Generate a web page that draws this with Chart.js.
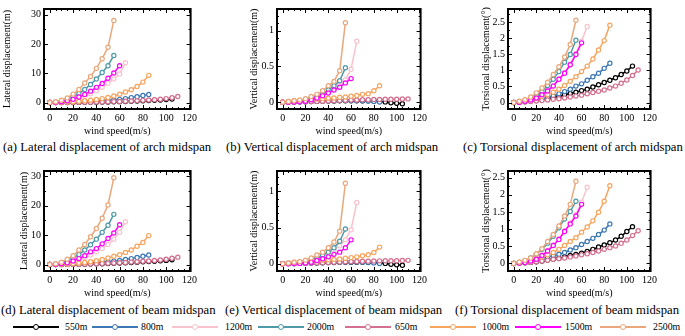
<!DOCTYPE html>
<html>
<head>
<meta charset="utf-8">
<script src="https://cdn.jsdelivr.net/npm/chart.js@4.4.0/dist/chart.umd.min.js"></script>
<style>
body { margin: 0; width: 685px; height: 336px; background: #fff; position: relative; overflow: hidden; font-family: "Liberation Serif", serif; color: #000; }
.panel { position: absolute; }
.cap { position: absolute; font-size: 12.7px; line-height: 15px; white-space: nowrap; }
.legline { position: absolute; height: 2px; }
.legdot { position: absolute; width: 4px; height: 4px; border-radius: 50%; background: #fff; border: 1.5px solid; }
.legtext { position: absolute; font-size: 9.8px; line-height: 12px; white-space: nowrap; }
</style>
</head>
<body>
<script>
// wind speeds (m/s), every series starts at 0 with a step of 5
var speed = [0, 5, 10, 15, 20, 25, 30, 35, 40, 45, 50, 55, 60, 65, 70, 75, 80, 85, 90, 95, 100, 105, 110];
var seriesNames = ['550m', '800m', '1200m', '2000m', '650m', '1000m', '1500m', '2500m'];
var seriesColors = ['#000000', '#3d78b5', '#f8c3cc', '#4f9aa8', '#d4708f', '#f6a55f', '#ff00ff', '#e9a77b'];

var xTicks = [0, 20, 40, 60, 80, 100, 120];
var lateralTicks = [0, 10, 20, 30];
var verticalTicks = [0, 0.5, 1];
var torsionTicks = [0, 0.5, 1, 1.5, 2, 2.5];

// (a) lateral displacement of arch midspan, rows in legend order
var archLateral = [
    [0, 0, 0.01, 0.02, 0.03, 0.05, 0.07, 0.1, 0.13, 0.17, 0.21, 0.26, 0.31, 0.37, 0.44, 0.51, 0.59, 0.68, 0.78, 0.89, 1.02, 1.18],
    [0, 0, 0.05, 0.1, 0.15, 0.22, 0.3, 0.4, 0.5, 0.6, 0.72, 0.9, 1.1, 1.35, 1.7, 2.0, 2.4, 2.8],
    [0, 0.05, 0.2, 0.5, 0.9, 1.5, 2.2, 3.0, 4.0, 5.2, 6.6, 8.1, 9.8, 13.6],
    [0, 0.2, 0.6, 1.2, 2.1, 3.1, 4.5, 6.2, 8.1, 10.3, 12.6, 16.1],
    [0, 0, 0.01, 0.03, 0.05, 0.07, 0.1, 0.13, 0.17, 0.22, 0.27, 0.33, 0.4, 0.48, 0.56, 0.66, 0.76, 0.87, 1.0, 1.15, 1.35, 1.65, 2.05],
    [0, 0.05, 0.1, 0.2, 0.3, 0.45, 0.6, 0.8, 1.05, 1.35, 1.75, 2.25, 2.85, 3.6, 4.4, 5.5, 7.0, 9.3],
    [0, 0.1, 0.3, 0.6, 1.1, 1.9, 2.8, 3.9, 5.2, 6.5, 8.3, 10.1, 12.6],
    [0, 0.3, 0.8, 1.6, 2.9, 4.5, 6.7, 8.9, 11.7, 15.0, 18.9, 28.1]
];

// (b) vertical displacement of arch midspan
var archVertical = [
    [0, 0.002, 0.004, 0.006, 0.008, 0.01, 0.012, 0.014, 0.016, 0.018, 0.02, 0.02, 0.022, 0.022, 0.022, 0.022, 0.02, 0.015, 0.005, -0.008, -0.015, -0.02],
    [0, 0.002, 0.004, 0.006, 0.009, 0.012, 0.015, 0.018, 0.02, 0.022, 0.024, 0.025, 0.025, 0.024, 0.022, 0.018, 0.012, 0.003],
    [0, 0.002, 0.005, 0.012, 0.025, 0.045, 0.07, 0.1, 0.14, 0.18, 0.24, 0.31, 0.46, 0.85],
    [0, 0.003, 0.008, 0.018, 0.035, 0.055, 0.08, 0.12, 0.17, 0.23, 0.30, 0.48],
    [0, 0.002, 0.004, 0.006, 0.008, 0.01, 0.012, 0.015, 0.018, 0.021, 0.024, 0.027, 0.03, 0.032, 0.034, 0.036, 0.038, 0.04, 0.041, 0.042, 0.043, 0.045, 0.047],
    [0, 0.01, 0.02, 0.03, 0.035, 0.04, 0.045, 0.05, 0.055, 0.06, 0.07, 0.075, 0.085, 0.095, 0.11, 0.12, 0.16, 0.23],
    [0, 0, 0.002, 0.006, 0.015, 0.035, 0.06, 0.09, 0.13, 0.17, 0.21, 0.27, 0.33],
    [0, 0.01, 0.02, 0.03, 0.05, 0.08, 0.11, 0.16, 0.23, 0.29, 0.44, 1.11]
];

// (c) torsional displacement of arch midspan
var archTorsion = [
    [0, 0.01, 0.03, 0.05, 0.07, 0.1, 0.12, 0.15, 0.19, 0.24, 0.28, 0.32, 0.37, 0.41, 0.48, 0.55, 0.62, 0.69, 0.77, 0.87, 0.98, 1.13],
    [0, 0.01, 0.03, 0.06, 0.09, 0.12, 0.16, 0.21, 0.27, 0.34, 0.41, 0.51, 0.58, 0.69, 0.8, 0.91, 1.06, 1.22],
    [0, 0.01, 0.04, 0.08, 0.15, 0.25, 0.37, 0.53, 0.73, 0.93, 1.2, 1.52, 1.9, 2.36],
    [0, 0.02, 0.05, 0.11, 0.2, 0.34, 0.53, 0.72, 0.96, 1.25, 1.49, 1.93],
    [0, 0.01, 0.02, 0.03, 0.05, 0.06, 0.08, 0.1, 0.12, 0.14, 0.17, 0.2, 0.23, 0.27, 0.31, 0.35, 0.39, 0.45, 0.51, 0.6, 0.7, 0.84, 1.01],
    [0, 0.03, 0.07, 0.1, 0.14, 0.19, 0.25, 0.32, 0.41, 0.53, 0.66, 0.8, 0.96, 1.13, 1.35, 1.63, 1.92, 2.4],
    [0, 0.01, 0.04, 0.08, 0.14, 0.24, 0.36, 0.51, 0.72, 0.91, 1.17, 1.49, 1.85],
    [0, 0.04, 0.09, 0.17, 0.3, 0.45, 0.63, 0.87, 1.11, 1.41, 1.8, 2.55]
];

// (d) lateral displacement of beam midspan
var beamLateral = [
    [0, 0, 0.01, 0.03, 0.05, 0.08, 0.12, 0.16, 0.22, 0.28, 0.35, 0.42, 0.5, 0.6, 0.7, 0.8, 0.9, 1.0, 1.1, 1.25, 1.4, 1.6],
    [0, 0.02, 0.05, 0.1, 0.18, 0.27, 0.38, 0.5, 0.65, 0.8, 0.95, 1.15, 1.35, 1.7, 2.0, 2.4, 2.8, 3.2],
    [0, 0.1, 0.3, 0.6, 0.9, 1.6, 2.3, 3.2, 4.3, 5.4, 6.8, 8.6, 10.9, 14.5],
    [0, 0.2, 0.6, 1.2, 2.2, 3.4, 4.9, 6.7, 8.6, 10.9, 13.3, 17.0],
    [0, 0, 0.02, 0.03, 0.06, 0.09, 0.13, 0.18, 0.25, 0.32, 0.4, 0.5, 0.6, 0.72, 0.85, 0.95, 1.1, 1.2, 1.35, 1.55, 1.8, 2.1, 2.5],
    [0, 0.05, 0.1, 0.2, 0.35, 0.5, 0.7, 0.95, 1.25, 1.7, 2.2, 2.8, 3.3, 4.1, 4.9, 6.2, 7.5, 9.8],
    [0, 0.1, 0.3, 0.6, 1.2, 2.0, 3.0, 4.3, 5.4, 7.0, 8.8, 10.7, 13.5],
    [0, 0.3, 0.8, 1.8, 3.0, 4.9, 6.8, 9.4, 12.2, 15.7, 20.2, 29.4]
];

// (e) vertical displacement of beam midspan
var beamVertical = [
    [0, 0.002, 0.004, 0.006, 0.008, 0.01, 0.012, 0.014, 0.016, 0.018, 0.02, 0.02, 0.022, 0.022, 0.022, 0.022, 0.02, 0.015, 0.005, -0.008, -0.015, -0.02],
    [0, 0.002, 0.004, 0.006, 0.009, 0.012, 0.015, 0.018, 0.02, 0.022, 0.024, 0.025, 0.025, 0.024, 0.022, 0.018, 0.012, 0.003],
    [0, 0.002, 0.005, 0.012, 0.025, 0.045, 0.07, 0.1, 0.14, 0.19, 0.25, 0.33, 0.47, 0.845],
    [0, 0.003, 0.008, 0.018, 0.035, 0.05, 0.075, 0.12, 0.16, 0.22, 0.31, 0.48],
    [0, 0.002, 0.004, 0.006, 0.008, 0.01, 0.012, 0.015, 0.018, 0.021, 0.024, 0.027, 0.03, 0.032, 0.034, 0.036, 0.038, 0.04, 0.041, 0.042, 0.043, 0.045, 0.047],
    [0, 0.01, 0.02, 0.03, 0.035, 0.04, 0.045, 0.05, 0.055, 0.06, 0.065, 0.075, 0.085, 0.095, 0.11, 0.125, 0.155, 0.23],
    [0, 0, 0.002, 0.005, 0.01, 0.02, 0.045, 0.07, 0.095, 0.13, 0.16, 0.22, 0.33],
    [0, 0.01, 0.02, 0.03, 0.05, 0.08, 0.12, 0.16, 0.22, 0.3, 0.45, 1.11]
];

// (f) torsional displacement of beam midspan
var beamTorsion = [
    [0, 0.01, 0.02, 0.03, 0.05, 0.07, 0.1, 0.13, 0.15, 0.19, 0.23, 0.26, 0.3, 0.35, 0.41, 0.48, 0.54, 0.6, 0.68, 0.79, 0.93, 1.07],
    [0, 0.02, 0.05, 0.07, 0.11, 0.14, 0.19, 0.23, 0.27, 0.32, 0.39, 0.46, 0.55, 0.64, 0.73, 0.84, 0.97, 1.15],
    [0, 0.01, 0.04, 0.08, 0.14, 0.25, 0.38, 0.54, 0.72, 0.95, 1.18, 1.42, 1.78, 2.22],
    [0, 0.03, 0.08, 0.16, 0.27, 0.41, 0.59, 0.79, 1.04, 1.29, 1.51, 1.81],
    [0, 0.01, 0.02, 0.03, 0.05, 0.07, 0.09, 0.12, 0.14, 0.16, 0.19, 0.22, 0.25, 0.28, 0.32, 0.36, 0.41, 0.46, 0.51, 0.59, 0.68, 0.81, 0.95],
    [0, 0.02, 0.05, 0.09, 0.14, 0.19, 0.25, 0.32, 0.41, 0.52, 0.64, 0.75, 0.91, 1.06, 1.24, 1.49, 1.81, 2.26],
    [0, 0.01, 0.03, 0.07, 0.12, 0.23, 0.36, 0.52, 0.7, 0.93, 1.15, 1.38, 1.72],
    [0, 0.04, 0.09, 0.16, 0.28, 0.43, 0.64, 0.84, 1.09, 1.38, 1.72, 2.39]
];

var captions = [
    '(a) Lateral displacement of arch midspan',
    '(b) Vertical displacement of arch midspan',
    '(c) Torsional displacement of arch midspan',
    '(d) Lateral displacement of beam midspan',
    '(e) Vertical displacement of beam midspan',
    '(f) Torsional displacement of beam midspan'
];

var FONT = 'Liberation Serif';

// frame with inward ticks on all four sides, like the original plots
var framePlugin = {
    id: 'frame',
    afterDraw: function (chart, args, opts) {
        var a = chart.chartArea;
        var ctx = chart.ctx;
        ctx.save();
        ctx.strokeStyle = '#000';
        ctx.lineWidth = 1;
        [['x', opts.xMinor], ['y', opts.yMinor]].forEach(function (pair) {
            var s = chart.scales[pair[0]];
            var step = pair[1];
            var majors = s.ticks.map(function (t) { return t.value; });
            for (var k = Math.ceil(s.min / step); k * step <= s.max + 1e-9; k++) {
                var v = +(k * step).toFixed(6);
                var len = majors.some(function (m) { return Math.abs(m - v) < 1e-6; }) ? 4 : 2;
                var p = Math.round(s.getPixelForValue(v)) + 0.5;
                ctx.beginPath();
                if (pair[0] === 'x') {
                    ctx.moveTo(p, a.bottom); ctx.lineTo(p, a.bottom - len);
                    ctx.moveTo(p, a.top); ctx.lineTo(p, a.top + len);
                } else {
                    ctx.moveTo(a.left, p); ctx.lineTo(a.left + len, p);
                    ctx.moveTo(a.right, p); ctx.lineTo(a.right - len, p);
                }
                ctx.stroke();
            }
        });
        ctx.lineWidth = 2;
        ctx.strokeRect(a.left, a.top, a.right - a.left, a.bottom - a.top);
        ctx.restore();
    }
};

var panels = [
    { data: archLateral, title: 'Lateral displacement(m)', ticks: lateralTicks, yMin: -2.2, yMax: 32, yMinor: 5, left: 0, top: 0, width: 200, yW: 44, padR: 7 },
    { data: archVertical, title: 'Vertical displacement(m)', ticks: verticalTicks, yMin: -0.094, yMax: 1.3, yMinor: 0.1, left: 247, top: 0, width: 183, yW: 30, padR: 5 },
    { data: archTorsion, title: 'Torsional displacement(°)', ticks: torsionTicks, yMin: -0.2, yMax: 2.9, yMinor: 0.25, left: 479, top: 0, width: 181, yW: 29, padR: 5 },
    { data: beamLateral, title: 'Lateral displacement(m)', ticks: lateralTicks, yMin: -2.2, yMax: 31.7, yMinor: 5, left: 17, top: 162, width: 183, yW: 27, padR: 7 },
    { data: beamVertical, title: 'Vertical displacement(m)', ticks: verticalTicks, yMin: -0.1, yMax: 1.28, yMinor: 0.1, left: 247, top: 162, width: 183, yW: 30, padR: 5 },
    { data: beamTorsion, title: 'Torsional displacement(°)', ticks: torsionTicks, yMin: -0.22, yMax: 2.69, yMinor: 0.25, left: 479, top: 162, width: 181, yW: 29, padR: 5 }
];

function makePanel(p) {
    var canvas = document.createElement('canvas');
    canvas.className = 'panel';
    canvas.width = p.width;
    canvas.height = 140;
    canvas.style.left = p.left + 'px';
    canvas.style.top = p.top + 'px';
    document.body.appendChild(canvas);

    var datasets = seriesNames.map(function (name, i) {
        return {
            label: name,
            data: p.data[i].map(function (v, j) { return { x: speed[j], y: v }; }),
            borderColor: seriesColors[i],
            backgroundColor: '#fff',
            pointBackgroundColor: '#fff',
            pointBorderColor: seriesColors[i],
            borderWidth: 1.5,
            pointRadius: 2.1,
            pointBorderWidth: 1.2,
            order: seriesNames.length - i
        };
    });

    new Chart(canvas, {
        type: 'line',
        data: { datasets: datasets },
        plugins: [framePlugin],
        options: {
            responsive: false,
            animation: false,
            devicePixelRatio: 1,
            layout: { padding: { top: 1, right: p.padR, left: 0, bottom: 0 } },
            plugins: {
                legend: { display: false },
                tooltip: { enabled: false },
                frame: { xMinor: 5, yMinor: p.yMinor }
            },
            scales: {
                x: {
                    type: 'linear',
                    min: -5,
                    max: 121,
                    grid: { display: false, drawTicks: false },
                    border: { display: false },
                    afterBuildTicks: function (s) { s.ticks = xTicks.map(function (v) { return { value: v }; }); },
                    afterFit: function (s) { s.height = 31; },
                    ticks: { padding: 3, color: '#000', font: { family: FONT, size: 10 }, maxRotation: 0, callback: function (v) { return String(v); } },
                    title: { display: true, text: 'wind speed(m/s)', color: '#000', font: { family: FONT, size: 10 }, padding: { top: 0, bottom: 3 } }
                },
                y: {
                    min: p.yMin,
                    max: p.yMax,
                    grid: { display: false, drawTicks: false },
                    border: { display: false },
                    afterBuildTicks: function (s) { s.ticks = p.ticks.map(function (v) { return { value: v }; }); },
                    afterFit: function (s) { s.width = p.yW; },
                    ticks: { padding: 3, color: '#000', font: { family: FONT, size: 10 }, callback: function (v) { return String(v); } },
                    title: { display: true, text: p.title, color: '#000', font: { family: FONT, size: 10 }, padding: { top: 1, bottom: 0 } }
                }
            }
        }
    });
}

panels.forEach(makePanel);

// captions under each row
var capPos = [[3, 140], [226, 140], [463, 140], [1, 303], [225, 303], [455, 303]];
captions.forEach(function (text, i) {
    var d = document.createElement('div');
    d.className = 'cap';
    d.style.left = capPos[i][0] + 'px';
    d.style.top = capPos[i][1] + 'px';
    d.textContent = text;
    document.body.appendChild(d);
});

// legend row at the bottom
var legLine = [13, 92, 172, 258, 345, 430, 515, 600];
var legText = [65, 141, 225, 307, 395, 482, 565, 653];
seriesNames.forEach(function (name, i) {
    var line = document.createElement('div');
    line.className = 'legline';
    line.style.left = legLine[i] + 'px';
    line.style.top = '326px';
    line.style.width = '46px';
    line.style.background = seriesColors[i];
    document.body.appendChild(line);

    var dot = document.createElement('div');
    dot.className = 'legdot';
    dot.style.left = (legLine[i] + 19.5) + 'px';
    dot.style.top = '323.5px';
    dot.style.borderColor = seriesColors[i];
    document.body.appendChild(dot);

    var t = document.createElement('div');
    t.className = 'legtext';
    t.style.left = legText[i] + 'px';
    t.style.top = '321px';
    t.textContent = name;
    document.body.appendChild(t);
});
</script>
</body>
</html>
